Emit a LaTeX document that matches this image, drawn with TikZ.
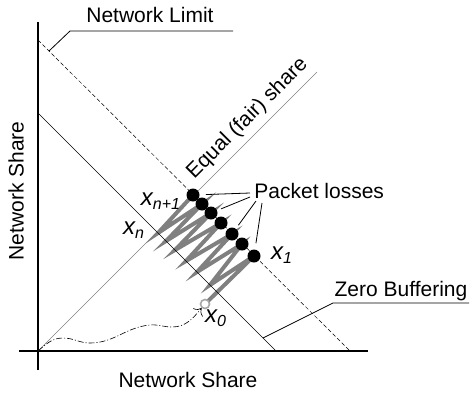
\documentclass[tikz,border=0pt]{standalone}
\usepackage{fontspec}
\setmainfont{Liberation Sans}
\usetikzlibrary{positioning,arrows.meta,backgrounds}
\tikzset{
  axis/.style   ={draw, line width=0.8pt},
  limit/.style  ={draw, line width=0.25pt, dash pattern=on 2pt off 1.2pt},
  zbuf/.style   ={draw, line width=0.25pt},
  fair/.style   ={draw, line width=0.25pt, gray},
  lead/.style   ={draw, line width=0.4pt},
  zigzag/.style ={draw, line width=2pt, gray},
  pkt/.style    ={circle, fill=black, minimum size=6.5pt, inner sep=0pt},
  start/.style  ={circle, draw=gray!70, fill=white, line width=0.8pt, minimum size=4.5pt, inner sep=0pt},
  traj/.style   ={draw, line width=0.3pt, dash pattern=on 3pt off 1pt on 0.5pt off 1pt, -{To[length=3pt]}},
  lbl/.style    ={font=\fontsize{10.5}{12}\selectfont, inner sep=0pt},
  xlbl/.style   ={font=\fontsize{12}{14}\selectfont\itshape, inner sep=0pt},
}

\begin{document}
\begin{tikzpicture}[x=0.5pt, y=0.5pt]
  \useasboundingbox (0,0) rectangle (470,393);

  % axes
  \coordinate (o) at (38,42);
  \coordinate (ybot) at (38,23);  \coordinate (ytop) at (38,371);
  \coordinate (xlft) at (19,42);  \coordinate (xrgt) at (368,42);
  \draw[axis] (ybot) -- (ytop);
  \draw[axis] (xlft) -- (xrgt);

  % limit, zero buffering, fair share
  \coordinate (nl1) at (38,353);  \coordinate (nl2) at (350,42);
  \coordinate (zb1) at (38,280);  \coordinate (zb2) at (276,42);
  \coordinate (eq) at (317,321);
  \draw[limit] (nl1) -- (nl2);
  \draw[zbuf] (zb1) -- (zb2);
  \draw[fair] (o) -- (eq);

  % packet losses and the sawtooth
  \foreach \i/\x in {1/193,2/202,3/211,4/221,5/232,6/242,7/254}
    \node[pkt] (t\i) at (\x,{391-\x}) {};
  \foreach \i/\x in {1/210,2/197,3/186,4/175,5/166,6/158}
    \coordinate (b\i) at (\x,{318-\x});
  \node[start] (s) at (205,89) {};
  \begin{scope}[on background layer]
    \draw[zigzag] (s.center) -- (t7.center) -- (b1) -- (t6.center) -- (b2) -- (t5.center) -- (b3)
      -- (t4.center) -- (b4) -- (t3.center) -- (b5) -- (t2.center) -- (b6) -- (t1.center);
  \end{scope}

  \draw[traj] (o) to[out=40,in=180] (63,55) to[out=0,in=180] (90,50) to[out=0,in=185] (150,68)
    to[out=5,in=180] (172,66) to[out=0,in=230] (s);

  \node[xlbl] (xn1) at (161,192) {x\textsubscript{n+1}};
  \node[xlbl] (xn)  at (134,163) {x\textsubscript{n}};
  \node[xlbl] (x1)  at (282,138) {x\textsubscript{1}};
  \node[xlbl] (x0)  at (216,75)  {x\textsubscript{0}};

  % labels with leaders
  \node[lbl, anchor=west] (pl) at (254,202) {Packet losses};
  \coordinate (pa) at (250,200);  \coordinate (pb) at (250,196);
  \coordinate (pc) at (256,192);  \coordinate (pd) at (262,190);
  \draw[lead, shorten >=3pt] (pa) -- (t1);
  \draw[lead, shorten >=2pt] (pb) -- (t3);
  \draw[lead, shorten >=2pt] (pc) -- (t5);
  \draw[lead, shorten >=3pt] (pd) -- (t7);

  \node[lbl] (nl) at (150,378) {Network Limit};
  \coordinate (nlend) at (233,362);  \coordinate (nlhit) at (49,342);
  \draw[lead] (nlend) -- (70,362) -- (nlhit);

  \node[lbl] (zb) at (401,102) {Zero Buffering};
  \coordinate (zbend) at (469,90);  \coordinate (zbhit) at (263,55);
  \draw[lead] (zbend) -- (333,90) -- (zbhit);

  \node[lbl, inner sep=3pt, anchor=south, rotate=45] (es) at (259,263) {Equal (fair) share};

  \node[lbl] (xa) at (188,13) {Network Share};
  \node[lbl, rotate=90] (ya) at (16,202) {Network Share};
\end{tikzpicture}
\end{document}
